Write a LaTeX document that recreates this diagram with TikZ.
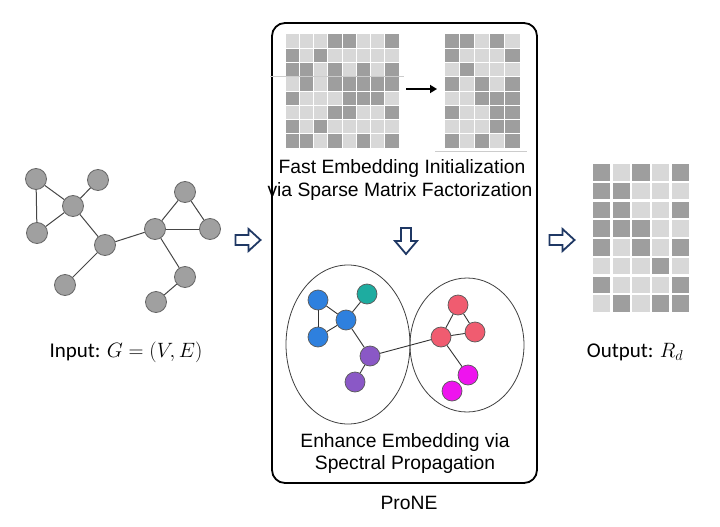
\documentclass[tikz,border=0pt]{standalone}
\usepackage{fontspec}
\setmainfont{Liberation Sans}
\newfontfamily\calib{Carlito}
\usetikzlibrary{arrows.meta}
\definecolor{navy}{RGB}{31,56,100}
\definecolor{celld}{RGB}{158,158,158}
\definecolor{celll}{RGB}{216,216,216}
\definecolor{gnode}{RGB}{160,160,160}
\definecolor{gline}{RGB}{70,70,70}
\definecolor{nblue}{RGB}{46,128,222}
\definecolor{nteal}{RGB}{30,172,160}
\definecolor{npurple}{RGB}{138,88,198}
\definecolor{nred}{RGB}{240,92,112}
\definecolor{nmag}{RGB}{238,20,238}
\begin{document}
\begin{tikzpicture}[x=1pt,y=-1pt,
  gv/.style={circle, draw=black!60, fill=gnode, line width=0.8pt, minimum size=21pt, inner sep=0pt},
  cv/.style={circle, draw=black!65, line width=0.7pt, minimum size=20pt, inner sep=0pt, fill=#1},
  ge/.style={draw=gline, line width=1pt},
  ce/.style={draw=black!80, line width=0.9pt},
  lbl/.style={font=\fontsize{19.3}{22}\selectfont, inner sep=0pt},
  side/.style={font=\calib\fontsize{21}{24}\selectfont, inner sep=0pt},
  bigarrow/.style={draw=navy, fill=white, line width=1.8pt, line join=miter},
  faint/.style={draw=black!20, line width=0.6pt}]
\useasboundingbox[fill=white] (0,0) rectangle (720,527);

% ---------- input graph ----------
\node[gv] (a) at (36,179) {};
\node[gv] (d) at (98,180) {};
\node[gv] (b) at (73,206) {};
\node[gv] (c) at (37,233) {};
\node[gv] (e) at (105,245) {};
\node[gv] (f) at (65,285) {};
\node[gv] (g) at (155,229) {};
\node[gv] (h) at (185,192) {};
\node[gv] (i) at (210,229) {};
\node[gv] (j) at (185,277) {};
\node[gv] (k) at (156,302) {};
\foreach \u/\v in {a/b,a/c,c/b,b/d,b/e,e/f,e/g,g/h,g/i,h/i,g/j,j/k}
  \draw[ge] (\u) -- (\v);
\node[side] (inlab) at (126,352) {Input: $G=(V,E)$};

% ---------- block arrows ----------
\draw[bigarrow, shift={(248,240)}] (-12.5,-5) -- (0.5,-5) -- (0.5,-11) -- (12.5,0) -- (0.5,11) -- (0.5,5) -- (-12.5,5) -- cycle;
\draw[bigarrow, shift={(562,240)}] (-12.5,-5) -- (0.5,-5) -- (0.5,-11) -- (12.5,0) -- (0.5,11) -- (0.5,5) -- (-12.5,5) -- cycle;
\draw[bigarrow, shift={(406,241)}] (-5,-13) -- (5,-13) -- (5,0) -- (11,0) -- (0,13) -- (-11,0) -- (-5,0) -- cycle;

% ---------- ProNE box ----------
\draw[line width=1.8pt, rounded corners=13pt] (272,23) rectangle (537,483);
\node[lbl] (prone) at (409,503) {ProNE};

% left matrix 8x8
\foreach \r/\cs in {1/{4,5,8},2/{1,3},3/{1,2,4,6,8},4/{2,4,5,6,7,8},5/{1,5,6,7},6/{4,5,8},7/{1,3},8/{1,2,4,6,8}}{
  \foreach \c in {1,...,8}
    \fill[celll] ({285+(\c-1)*14.25+0.5},{34+(\r-1)*14.25+0.5}) rectangle +(13.25,13.25);
  \foreach \c in \cs
    \fill[celld] ({285+(\c-1)*14.25+0.5},{34+(\r-1)*14.25+0.5}) rectangle +(13.25,13.25);
}
% middle matrix 8x5
\foreach \r/\cs in {1/{1,2,4},2/{1,5},3/{2},4/{1,3,5},5/{3,4,5},6/{1,4,5},7/{4,5},8/{1,3,5}}{
  \foreach \c in {1,...,5}
    \fill[celll] ({444+(\c-1)*15.2+0.5},{34+(\r-1)*14.25+0.5}) rectangle +(14.2,13.25);
  \foreach \c in \cs
    \fill[celld] ({444+(\c-1)*15.2+0.5},{34+(\r-1)*14.25+0.5}) rectangle +(14.2,13.25);
}
\draw[faint] (270,76) -- (404,76);
\draw[faint] (435,151) -- (527,151);
\coordinate (ma) at (406,89);
\coordinate (mb) at (437,89);
\draw[line width=2pt, -{Triangle[length=7pt,width=8pt]}] (ma) -- (mb);

\node[lbl] (t1) at (402,169) {Fast Embedding Initialization};
\node[lbl] (t2) at (400,192) {via Sparse Matrix Factorization};

% clusters
\draw[black!75, line width=0.8pt] (348,344.5) ellipse [x radius=62, y radius=79.5];
\draw[black!75, line width=0.8pt] (467,345) ellipse [x radius=57, y radius=67];

\node[cv=nblue] (b1) at (318,300) {};
\node[cv=nteal] (tl) at (367,294) {};
\node[cv=nblue] (b2) at (346,320) {};
\node[cv=nblue] (b3) at (318,337) {};
\node[cv=npurple] (p1) at (370,356) {};
\node[cv=npurple] (p2) at (355,382) {};
\node[cv=nred] (rt) at (458,305) {};
\node[cv=nred] (rm) at (441,337) {};
\node[cv=nred] (rr) at (475,332) {};
\node[cv=nmag] (m1) at (468,375) {};
\node[cv=nmag] (m2) at (452,391) {};
\foreach \u/\v in {b1/b2,b1/b3,b3/b2,b2/tl,b2/p1,p1/p2,p1/rm,rm/rt,rt/rr,rm/rr,rm/m1}
  \draw[ce] (\u) -- (\v);

\node[lbl] (t3) at (405,443) {Enhance Embedding via};
\node[lbl] (t4) at (405,465) {Spectral Propagation};

% ---------- output matrix 8x5 ----------
\foreach \r/\cs in {1/{1,3,5},2/{1,2},3/{1,2,5},4/{1,2,3},5/{1,3,5},6/{4},7/{1,5},8/{2,4,5}}{
  \foreach \c in {1,...,5}
    \fill[celll] ({592+(\c-1)*19.6+1.2},{163+(\r-1)*18.75+1.2}) rectangle +(17.2,16.35);
  \foreach \c in \cs
    \fill[celld] ({592+(\c-1)*19.6+1.2},{163+(\r-1)*18.75+1.2}) rectangle +(17.2,16.35);
}
\node[side] (outlab) at (635,352) {Output: $R_d$};
\end{tikzpicture}
\end{document}
